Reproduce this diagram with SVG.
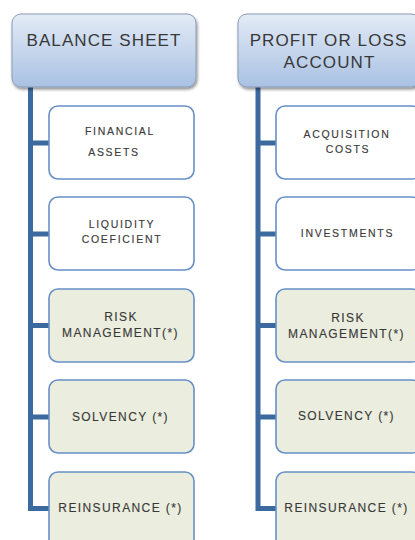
<svg xmlns="http://www.w3.org/2000/svg" width="415" height="540" viewBox="0 0 415 540">
  <defs>
    <linearGradient id="hdrFill" x1="0" y1="0" x2="0" y2="1">
      <stop offset="0" stop-color="#e3ebf6"/>
      <stop offset="1" stop-color="#a9c1e3"/>
    </linearGradient>
    <filter id="shadow" x="-10%" y="-10%" width="125%" height="130%">
      <feGaussianBlur in="SourceAlpha" stdDeviation="1.6"/>
      <feOffset dx="1" dy="2" result="b"/>
      <feComponentTransfer><feFuncA type="linear" slope="0.45"/></feComponentTransfer>
      <feMerge><feMergeNode/><feMergeNode in="SourceGraphic"/></feMerge>
    </filter>
    <style>
      .hdr { fill: url(#hdrFill); stroke: #8a9bb5; stroke-width: 1; filter: url(#shadow); }
      .item { fill: #ffffff; stroke: #6690c6; stroke-width: 1.6; }
      .item.flag { fill: #ebeedf; }
      .wire { fill: none; stroke: #3c6a9f; stroke-width: 5; stroke-linejoin: miter; }
      text { font-family: "Liberation Sans", Arial, sans-serif; fill: #383838; text-anchor: middle; }
      .ht { font-size: 17px; letter-spacing: 1.1px; fill: #383838; }
      .st { font-size: 10.5px; letter-spacing: 1.7px; stroke: #444444; stroke-width: 0.15px; }
      .gt { font-size: 12px; letter-spacing: 1.4px; stroke: #444444; stroke-width: 0.15px; }
    </style>
  </defs>

  <!-- tree connectors -->
  <g id="connectors">
    <path class="wire" d="M30.5 87 V508.5 H49 M30.5 143 H49 M30.5 234 H49 M30.5 325.5 H49 M30.5 417 H49"/>
    <path class="wire" d="M258 87 V508.5 H276 M258 143 H276 M258 234 H276 M258 325.5 H276 M258 417 H276"/>
  </g>

  <!-- balance sheet column -->
  <g id="balance-sheet">
    <rect class="hdr" x="12" y="14" width="184" height="73" rx="9"/>
    <text class="ht" x="104" y="46">BALANCE SHEET</text>
  </g>
  <g id="financial-assets">
    <rect class="item" x="49" y="106" width="145" height="73" rx="9"/>
    <text class="st" x="120" y="135">FINANCIAL</text>
    <text class="st" x="114" y="156">ASSETS</text>
  </g>
  <g id="liquidity-coeficient">
    <rect class="item" x="49" y="197" width="145" height="73" rx="9"/>
    <text class="st" x="122" y="228">LIQUIDITY</text>
    <text class="st" x="122" y="243">COEFICIENT</text>
  </g>
  <g id="risk-management-bs">
    <rect class="item flag" x="49" y="289" width="145" height="73" rx="9"/>
    <text class="gt" x="121" y="321">RISK</text>
    <text class="gt" x="120.5" y="337">MANAGEMENT(*)</text>
  </g>
  <g id="solvency-bs">
    <rect class="item flag" x="49" y="380" width="145" height="73" rx="9"/>
    <text class="gt" x="120.5" y="421">SOLVENCY (*)</text>
  </g>
  <g id="reinsurance-bs">
    <rect class="item flag" x="49" y="472" width="145" height="80" rx="9"/>
    <text class="gt" x="120.5" y="512">REINSURANCE (*)</text>
  </g>

  <!-- profit or loss column -->
  <g id="profit-loss">
    <rect class="hdr" x="238" y="14" width="182" height="73" rx="9"/>
    <text class="ht" x="328.5" y="46">PROFIT OR LOSS</text>
    <text class="ht" x="329.5" y="68">ACCOUNT</text>
  </g>
  <g id="acquisition-costs">
    <rect class="item" x="276" y="106" width="145" height="73" rx="9"/>
    <text class="st" x="347" y="138">ACQUISITION</text>
    <text class="st" x="348" y="153">COSTS</text>
  </g>
  <g id="investments">
    <rect class="item" x="276" y="197" width="145" height="73" rx="9"/>
    <text class="st" x="347.5" y="237">INVESTMENTS</text>
  </g>
  <g id="risk-management-pl">
    <rect class="item flag" x="276" y="289" width="145" height="73" rx="9"/>
    <text class="gt" x="348" y="322">RISK</text>
    <text class="gt" x="346.5" y="338">MANAGEMENT(*)</text>
  </g>
  <g id="solvency-pl">
    <rect class="item flag" x="276" y="380" width="145" height="73" rx="9"/>
    <text class="gt" x="346.5" y="420">SOLVENCY (*)</text>
  </g>
  <g id="reinsurance-pl">
    <rect class="item flag" x="276" y="472" width="145" height="80" rx="9"/>
    <text class="gt" x="346.5" y="512">REINSURANCE (*)</text>
  </g>
</svg>
